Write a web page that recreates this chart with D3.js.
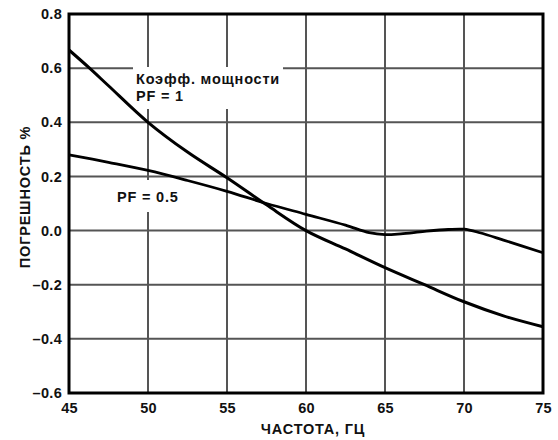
<!DOCTYPE html>
<html>
<head>
<meta charset="utf-8">
<script src="https://cdn.jsdelivr.net/npm/d3@7"></script>
<style>
  html, body { margin: 0; padding: 0; background: #fff; }
  svg { display: block; }
  text { font-family: "Liberation Sans", Arial, sans-serif; font-weight: bold; fill: #111; }
</style>
</head>
<body>
<svg id="chart" width="558" height="440"></svg>
<script>
// Frequency axis (Hz) and error axis (%)
const xTicks = [45, 50, 55, 60, 65, 70, 75];
const yTicks = [-0.6, -0.4, -0.2, 0.0, 0.2, 0.4, 0.6, 0.8];

// Error vs. frequency, power factor = 1
const freqPF1 = [45, 46.3, 47.5, 50, 52.5, 55, 57.5, 60, 62.5, 65, 67.5, 70, 72.5, 75];
const errPF1  = [0.667, 0.60, 0.535, 0.40, 0.29, 0.195, 0.095, 0.0, -0.068, -0.137, -0.20, -0.263, -0.315, -0.355];

// Error vs. frequency, power factor = 0.5
const freqPF05 = [45, 47.5, 50, 52.5, 55, 57.5, 60, 62.5, 64, 65, 66, 67.5, 69, 70, 71, 72.5, 75];
const errPF05  = [0.28, 0.252, 0.222, 0.185, 0.145, 0.10, 0.06, 0.02, -0.008, -0.015, -0.012, -0.003, 0.004, 0.005, -0.008, -0.035, -0.082];

const svg = d3.select("#chart");
const plotL = 69, plotR = 543, plotT = 14, plotB = 393;
const FS = 14.5, LS = 0.8;

const x = d3.scaleLinear().domain([45, 75]).range([plotL, plotR]);
const y = d3.scaleLinear().domain([-0.6, 0.8]).range([plotB, plotT]);

// Grid
const grid = svg.append("g").attr("stroke", "#555").attr("stroke-width", 2);
grid.selectAll("line.v").data(xTicks.slice(1, -1)).join("line")
  .attr("x1", d => x(d)).attr("x2", d => x(d))
  .attr("y1", plotT).attr("y2", plotB);
grid.selectAll("line.h").data(yTicks.slice(1, -1)).join("line")
  .attr("x1", plotL).attr("x2", plotR)
  .attr("y1", d => y(d)).attr("y2", d => y(d));

// Label backgrounds
svg.append("rect").attr("x", 133).attr("y", 67).attr("width", 150).attr("height", 42).attr("fill", "#fff");
svg.append("rect").attr("x", 113).attr("y", 180).attr("width", 66).attr("height", 32).attr("fill", "#fff");

// Curves
const line = d3.line().x(d => x(d[0])).y(d => y(d[1])).curve(d3.curveCatmullRom.alpha(0.5));
svg.append("path").datum(d3.zip(freqPF1, errPF1)).attr("d", line)
  .attr("fill", "none").attr("stroke", "#000").attr("stroke-width", 3);
svg.append("path").datum(d3.zip(freqPF05, errPF05)).attr("d", line)
  .attr("fill", "none").attr("stroke", "#000").attr("stroke-width", 2.8);

// Frame
svg.append("rect").attr("x", plotL).attr("y", plotT)
  .attr("width", plotR - plotL).attr("height", plotB - plotT)
  .attr("fill", "none").attr("stroke", "#000").attr("stroke-width", 3);

// Axes (labels only)
const fmtY = d => (d < 0 ? "\u2013" + d3.format(".1f")(-d) : d3.format(".1f")(d));
const yAxis = svg.append("g").attr("transform", `translate(${plotL - 5},0)`)
  .call(d3.axisLeft(y).tickValues(yTicks).tickFormat(fmtY).tickSize(0).tickPadding(2));
const xAxis = svg.append("g").attr("transform", `translate(0,${plotB + 5})`)
  .call(d3.axisBottom(x).tickValues(xTicks).tickFormat(d3.format("d")).tickSize(0).tickPadding(5));
[yAxis, xAxis].forEach(a => {
  a.select(".domain").remove();
  a.selectAll("text").attr("font-size", FS).attr("font-family", "Liberation Sans, Arial, sans-serif")
    .attr("font-weight", "bold").attr("fill", "#111").attr("letter-spacing", 0.3);
});

// Titles
svg.append("text").attr("x", 313).attr("y", 434).attr("text-anchor", "middle")
  .attr("font-size", FS).attr("letter-spacing", LS).text("ЧАСТОТА, ГЦ");
svg.append("text").attr("transform", "translate(30,197) rotate(-90)").attr("text-anchor", "middle")
  .attr("font-size", FS).attr("letter-spacing", LS).text("ПОГРЕШНОСТЬ %");

// Curve annotations
svg.append("text").attr("x", 136).attr("y", 84).attr("font-size", FS).attr("letter-spacing", LS)
  .text("Коэфф. мощности");
svg.append("text").attr("x", 136).attr("y", 101).attr("font-size", FS).attr("letter-spacing", LS)
  .text("PF = 1");
svg.append("text").attr("x", 117).attr("y", 202).attr("font-size", FS).attr("letter-spacing", LS)
  .text("PF = 0.5");
</script>
</body>
</html>
